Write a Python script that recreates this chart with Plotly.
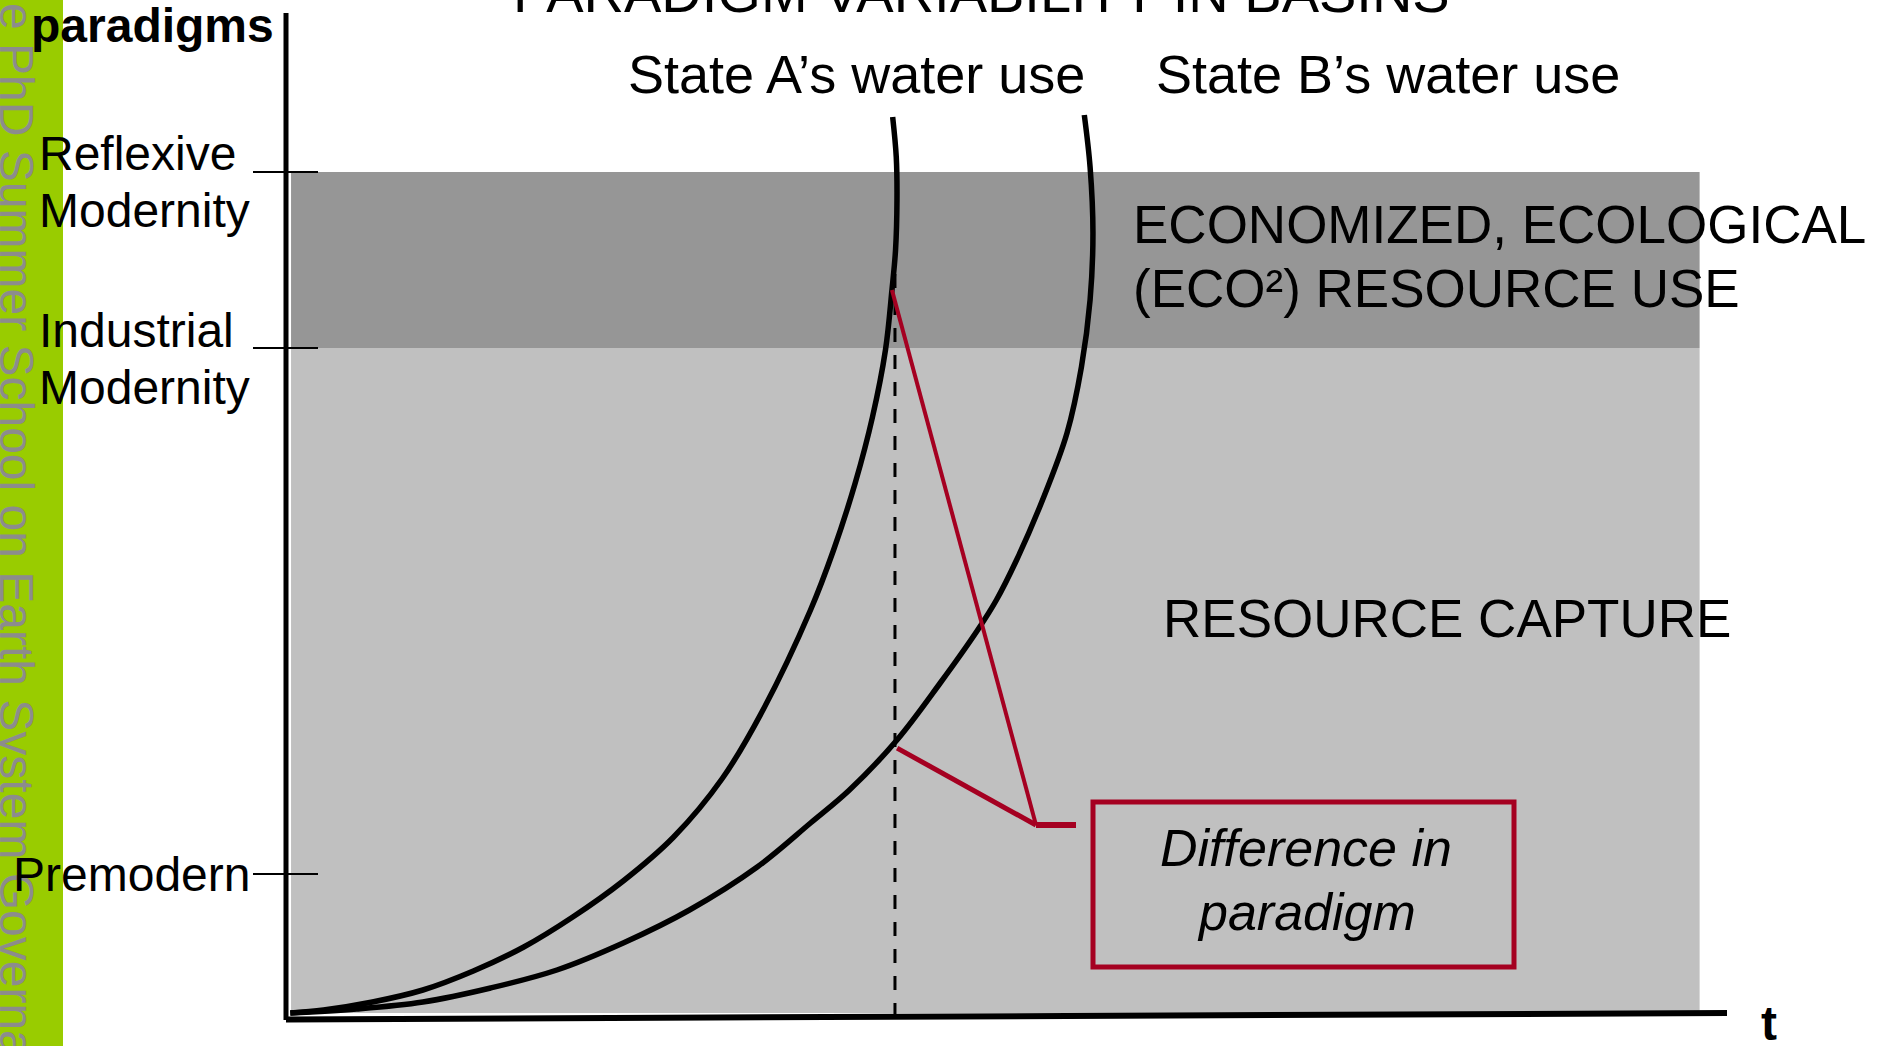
import numpy as np
import plotly.graph_objects as go

# ---------------- data ----------------
# paradigm levels on the vertical axis (arbitrary 0-100 scale)
paradigm_names = ["Premodern", "Industrial Modernity", "Reflexive Modernity"]
paradigm_levels = [14.3, 66.9, 84.5]

# State A's water use (t, paradigm level)
state_a_t = [0.3, 2.6, 6.0, 9.5, 13.0, 16.5, 19.9, 23.4, 26.9, 30.3, 33.1,
             36.4, 38.0, 39.5, 40.7, 41.6, 42.05, 42.3, 42.4, 42.35, 42.1]
state_a_level = [0.4, 0.7, 1.5, 2.7, 4.6, 7.0, 10.0, 13.6, 18.0, 23.9, 30.7,
                 40.7, 46.7, 53.4, 60.0, 66.7, 72.7, 76.7, 81.7, 86.0, 90.0]

# State B's water use (t, paradigm level)
state_b_t = [0.3, 4.9, 9.5, 14.2, 18.8, 23.4, 28.0, 32.7, 36.4, 39.1, 42.4,
             45.4, 48.0, 49.3, 50.7, 52.5, 54.2, 55.2, 55.8, 56.0, 55.8, 55.4]
state_b_level = [0.4, 0.8, 1.5, 2.9, 4.7, 7.4, 10.7, 15.0, 19.4, 22.7, 27.7,
                 33.4, 38.7, 41.7, 45.7, 51.7, 58.4, 65.0, 71.7, 78.4, 85.0, 90.2]

t_compare = 42.26          # moment compared (dashed line)
callout_level_a = 72.7     # where the callout touches State A's curve
band_t = [0.35, 98.1]      # horizontal extent of the paradigm bands
band_floor = 0.4

# ---------------- pixel helpers (layout only) ----------------
W, H = 1891, 1046
X0, XS, Y0, YS = 286.0, 14.41, 1017.0, 10.0
def dx(px): return (px - X0) / XS
def dy(py): return (Y0 - py) / YS

FONT = "Liberation Sans, Arial, Helvetica, sans-serif"
RED = "#A50021"

fig = go.Figure()

shapes = [
    dict(type="rect", xref="x", yref="y", x0=dx(-5), x1=dx(63), y0=dy(H + 5), y1=dy(-5),
         fillcolor="#99CC00", line_width=0, layer="below"),
    dict(type="rect", xref="x", yref="y", x0=band_t[0], x1=band_t[1],
         y0=band_floor, y1=paradigm_levels[1],
         fillcolor="#C0C0C0", line_width=0, layer="below"),
    dict(type="rect", xref="x", yref="y", x0=band_t[0], x1=band_t[1],
         y0=paradigm_levels[1], y1=paradigm_levels[2],
         fillcolor="#969696", line_width=0, layer="below"),
]

# tick marks crossing the axis
for lv in paradigm_levels:
    fig.add_trace(go.Scatter(x=[dx(253), dx(318)], y=[lv, lv], mode="lines",
                             line=dict(color="black", width=2), hoverinfo="skip"))

# axes lines
fig.add_trace(go.Scatter(x=[0, 0], y=[dy(1020), dy(13)], mode="lines",
                         line=dict(color="black", width=5), hoverinfo="skip"))
fig.add_trace(go.Scatter(x=[0, 100], y=[dy(1019.5), dy(1013)], mode="lines",
                         line=dict(color="black", width=6), hoverinfo="skip"))

# dashed comparison line
fig.add_trace(go.Scatter(x=[t_compare, t_compare], y=[dy(247), dy(1030)], mode="lines",
                         line=dict(color="black", width=3, dash="14px,13px"),
                         hoverinfo="skip"))

# curves
fig.add_trace(go.Scatter(x=state_a_t, y=state_a_level, mode="lines",
                         line=dict(color="black", width=5.5, shape="spline", smoothing=1.0),
                         name="State A"))
fig.add_trace(go.Scatter(x=state_b_t, y=state_b_level, mode="lines",
                         line=dict(color="black", width=5.5, shape="spline", smoothing=1.0),
                         name="State B"))

# callout lines
a_t_at = float(np.interp(callout_level_a, state_a_level, state_a_t))
rise = int(np.argmax(state_b_t)) + 1
b_lv_at = float(np.interp(t_compare, state_b_t[:rise], state_b_level[:rise]))
elbow = (dx(1036), dy(825))
fig.add_trace(go.Scatter(x=[a_t_at, elbow[0]], y=[callout_level_a, elbow[1]], mode="lines",
                         line=dict(color=RED, width=4), hoverinfo="skip"))
fig.add_trace(go.Scatter(x=[t_compare + 0.15, elbow[0]], y=[b_lv_at - 0.6, elbow[1]],
                         mode="lines", line=dict(color=RED, width=5), hoverinfo="skip"))
fig.add_trace(go.Scatter(x=[elbow[0], dx(1076)], y=[elbow[1], elbow[1]], mode="lines",
                         line=dict(color=RED, width=6), hoverinfo="skip"))

shapes.append(dict(type="rect", xref="x", yref="y", x0=dx(1093), x1=dx(1514),
                   y0=dy(967), y1=dy(802), line=dict(color=RED, width=5),
                   fillcolor="rgba(0,0,0,0)", layer="above"))

ann = []
def text(x, y, s, size, xanchor="center", bold=False, italic=False, color="black",
         angle=0, xref="x", yref="y"):
    if bold:
        s = "<b>" + s + "</b>"
    if italic:
        s = "<i>" + s + "</i>"
    ann.append(dict(x=x, y=y, xref=xref, yref=yref, text=s, showarrow=False,
                    xanchor=xanchor, yanchor="middle", textangle=angle,
                    font=dict(family=FONT, size=size, color=color)))

# vertical banner text
text(dx(17), dy(540), "The PhD Summer School on Earth System Governance", 48,
     color="#8C8C8C", angle=90)

# title (cut off at the top)
ann.append(dict(x=981 / W, y=1 + 7.6 / H, xref="paper", yref="paper",
                text="PARADIGM VARIABILITY IN BASINS", showarrow=False,
                xanchor="center", yanchor="middle",
                font=dict(family=FONT, size=56, color="black")))

text(dx(29), dy(25), "paradigms", 48, xanchor="left", bold=True)
text(dx(1769), dy(1023), "t", 48, bold=True)

# paradigm labels
text(dx(37), paradigm_levels[2] + 1.9, "Reflexive", 48, xanchor="left")
text(dx(37), paradigm_levels[2] - 3.8, "Modernity", 48, xanchor="left")
text(dx(37), paradigm_levels[1] + 1.8, "Industrial", 48, xanchor="left")
text(dx(37), paradigm_levels[1] - 3.9, "Modernity", 48, xanchor="left")
text(dx(131), paradigm_levels[0], "Premodern", 48)

# series labels
text(dx(856.5), dy(73.5), "State A\u2019s water use", 54)
text(dx(1387.5), dy(73.5), "State B\u2019s water use", 54)

# band labels
text(dx(1131), dy(224.5), "ECONOMIZED, ECOLOGICAL", 53, xanchor="left")
text(dx(1131), dy(288.5), "(ECO\u00b2) RESOURCE USE", 53, xanchor="left")
text(dx(1161), dy(618.5), "RESOURCE CAPTURE", 53, xanchor="left")

# callout box text
text(dx(1306), dy(848), "Difference in", 52, italic=True)
text(dx(1306), dy(912), "paradigm", 52, italic=True)

fig.update_layout(
    width=W, height=H, margin=dict(l=0, r=0, t=0, b=0),
    paper_bgcolor="white", plot_bgcolor="white", showlegend=False,
    xaxis=dict(range=[dx(0), dx(W)], visible=False, fixedrange=True),
    yaxis=dict(range=[dy(H), dy(0)], visible=False, fixedrange=True),
    shapes=shapes, annotations=ann,
)

fig.write_html("out.html", config={"displayModeBar": False},
               post_script="document.body.style.margin='0px';document.body.style.overflow='hidden';")
